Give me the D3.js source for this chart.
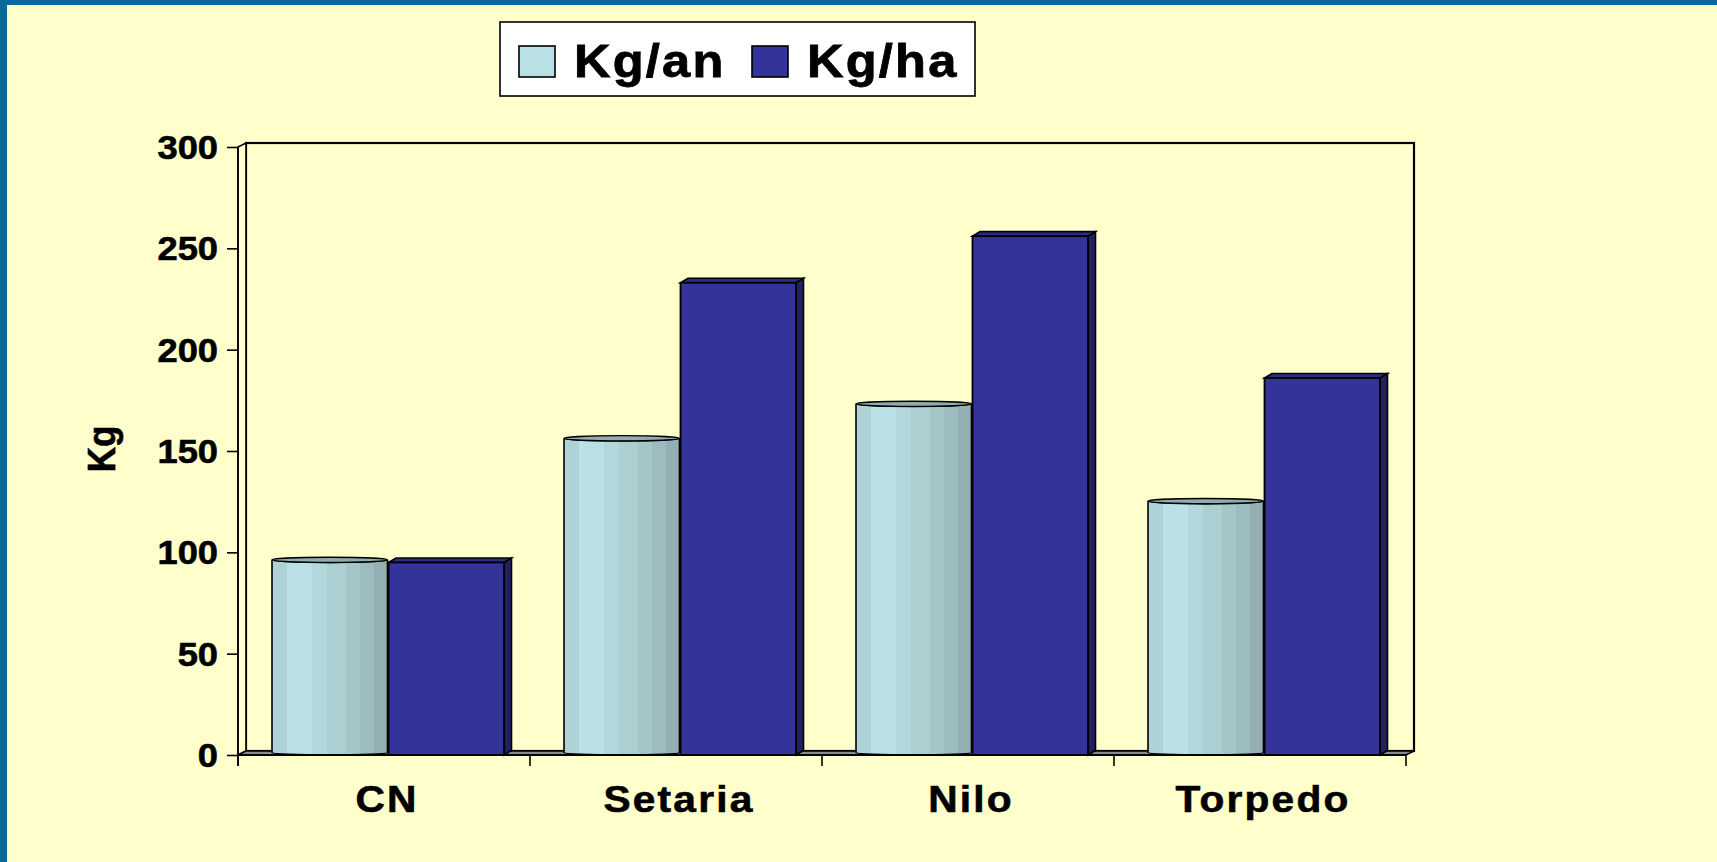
<!DOCTYPE html>
<html>
<head>
<meta charset="utf-8">
<script src="https://cdn.jsdelivr.net/npm/d3@7"></script>
<style>
  html, body { margin: 0; padding: 0; background: #FFFFCC; overflow: hidden; }
</style>
</head>
<body>
<div id="graphic"></div>
<script>
// values
const categories = ['CN', 'Setaria', 'Nilo', 'Torpedo'];
const series = ['Kg/an', 'Kg/ha'];
const kgAn = [95, 155, 172, 124];
const kgHa = [95, 233, 256, 186];
const yTicks = [0, 50, 100, 150, 200, 250, 300];
const yTitle = 'Kg';

const width = 1717, height = 862;
const font = '"Liberation Sans", Arial, sans-serif';
const sx = 1.1; // text in the original is a bit stretched
const bg = '#FFFFCC';
const lightCol = '#B9E0E4', darkCol = '#333399';

// 3d depth of walls and boxes
const wall = {dx: 8, dy: -4};
const box = {dx: 7.5, dy: -4.5};

const svg = d3.select('#graphic')
  .append('svg')
  .attr('width', width)
  .attr('height', height)
  .attr('font-family', font)
  .attr('font-weight', 'bold');

svg.append('rect').attr('width', width).attr('height', height).attr('fill', bg);
// blue frame on top and left
svg.append('rect').attr('width', width).attr('height', 5).attr('fill', '#0A699C');
svg.append('rect').attr('width', 7).attr('height', height).attr('fill', '#0A699C');

const defs = svg.append('defs');
const grad = defs.append('linearGradient').attr('id', 'cyl')
  .attr('x1', 0).attr('x2', 1).attr('y1', 0).attr('y2', 0);
const bands = [
  [0.00, '#AED2D6'], [0.13, '#BAE1E5'], [0.35, '#B3D8DB'], [0.48, '#ACCFD2'],
  [0.64, '#A5C6C9'], [0.76, '#9DBCBF'], [0.88, '#93AFB1'], [1.00, '#93AFB1']
];
bands.forEach((b, i) => {
  if (i > 0) grad.append('stop').attr('offset', b[0]).attr('stop-color', bands[i - 1][1]);
  grad.append('stop').attr('offset', b[0]).attr('stop-color', b[1]);
});

const y = d3.scaleLinear().domain([0, 300]).range([755, 147]);
const x0 = d3.scaleBand().domain(categories).range([238, 1406]);
const x1 = d3.scaleBand().domain(series).range([34, 265]);

const [plotL, plotR] = x0.range();
const yBase = y(0), yTop = y(300);

// walls + floor
svg.append('rect')
  .attr('x', plotL + wall.dx).attr('y', yTop + wall.dy)
  .attr('width', plotR - plotL).attr('height', yBase - yTop)
  .attr('fill', bg).attr('stroke', '#000').attr('stroke-width', 2.2);
svg.append('polygon')
  .attr('points', [[plotL, yTop], [plotL + wall.dx, yTop + wall.dy], [plotL + wall.dx, yBase + wall.dy], [plotL, yBase]].join(' '))
  .attr('fill', bg).attr('stroke', '#000').attr('stroke-width', 1.6);
svg.append('polygon')
  .attr('points', [[plotL, yBase], [plotL + wall.dx, yBase + wall.dy], [plotR + wall.dx, yBase + wall.dy], [plotR, yBase]].join(' '))
  .attr('fill', '#8A8A8A').attr('stroke', '#000').attr('stroke-width', 1.4);

// y axis
const yAxis = svg.append('g')
  .attr('transform', `translate(${plotL},0)`)
  .call(d3.axisLeft(y).tickValues(yTicks).tickSize(11).tickPadding(9));
yAxis.select('.domain').remove();
yAxis.append('line').attr('x1', 0).attr('x2', 0).attr('y1', yTop).attr('y2', yBase + 11)
  .attr('stroke', '#000').attr('stroke-width', 1.6);
yAxis.selectAll('.tick line').attr('stroke', '#000').attr('stroke-width', 1.6);
yAxis.selectAll('.tick text')
  .attr('fill', '#000')
  .attr('stroke', '#000').attr('stroke-width', 0.6)
  .attr('font-size', 33)
  .attr('font-family', font)
  .attr('font-weight', 'bold')
  .attr('dy', '0.35em')
  .attr('transform', function() { const xx = +d3.select(this).attr('x'); return `translate(${xx},0) scale(${sx},1) translate(${-xx},0)`; });

// y title
svg.append('text')
  .attr('transform', `translate(115,449) rotate(-90) scale(1,${sx})`)
  .attr('text-anchor', 'middle')
  .attr('font-size', 35)
  .attr('stroke', '#000').attr('stroke-width', 0.6)
  .text(yTitle);

// bars
const rows = categories.map((c, i) => ({cat: c, an: kgAn[i], ha: kgHa[i]}));
const groups = svg.append('g').selectAll('g')
  .data(rows)
  .join('g')
  .attr('transform', d => `translate(${x0(d.cat)},0)`);

const bw = x1.bandwidth();
const e = 2.6;

function cylBody(d) {
  const xa = x1('Kg/an'), xb = xa + bw, rx = bw / 2, cy = y(d.an) - e;
  return `M${xa},${cy} L${xa},${yBase - e} A${rx},${e} 0 0 0 ${xb},${yBase - e} L${xb},${cy} A${rx},${e} 0 0 1 ${xa},${cy} Z`;
}
groups.append('path')
  .attr('d', cylBody)
  .attr('fill', 'url(#cyl)')
  .attr('stroke', '#000').attr('stroke-width', 1.6);
groups.append('ellipse')
  .attr('cx', x1('Kg/an') + bw / 2)
  .attr('cy', d => y(d.an) - e)
  .attr('rx', bw / 2).attr('ry', e)
  .attr('fill', '#8FADAF').attr('stroke', '#000').attr('stroke-width', 1.4);

const xh = x1('Kg/ha') + 1;
groups.append('polygon')
  .attr('points', d => [[xh + bw, y(d.ha)], [xh + bw + box.dx, y(d.ha) + box.dy], [xh + bw + box.dx, yBase + box.dy], [xh + bw, yBase]].join(' '))
  .attr('fill', '#21215F').attr('stroke', '#000').attr('stroke-width', 1.6);
groups.append('polygon')
  .attr('points', d => [[xh, y(d.ha)], [xh + box.dx, y(d.ha) + box.dy], [xh + bw + box.dx, y(d.ha) + box.dy], [xh + bw, y(d.ha)]].join(' '))
  .attr('fill', '#2C2C85').attr('stroke', '#000').attr('stroke-width', 1.6);
groups.append('rect')
  .attr('x', xh).attr('y', d => y(d.ha))
  .attr('width', bw).attr('height', d => yBase - y(d.ha))
  .attr('fill', darkCol).attr('stroke', '#000').attr('stroke-width', 1.8);

// x axis
const xAxis = svg.append('g');
xAxis.append('line').attr('x1', plotL).attr('x2', plotR).attr('y1', yBase).attr('y2', yBase)
  .attr('stroke', '#000').attr('stroke-width', 2);
xAxis.selectAll('line.tk')
  .data(categories.map(c => x0(c)).concat([plotR]))
  .join('line').attr('class', 'tk')
  .attr('x1', d => d).attr('x2', d => d).attr('y1', yBase).attr('y2', yBase + 11)
  .attr('stroke', '#000').attr('stroke-width', 1.6);
xAxis.selectAll('text')
  .data(categories)
  .join('text')
  .attr('transform', d => `translate(${x0(d) + x0.bandwidth() / 2 + 3},812) scale(${sx},1)`)
  .attr('text-anchor', 'middle')
  .attr('font-size', 37)
  .attr('letter-spacing', 2)
  .attr('stroke', '#000').attr('stroke-width', 0.6)
  .text(d => d);

// legend
const legend = svg.append('g');
legend.append('rect')
  .attr('x', 500).attr('y', 22).attr('width', 475).attr('height', 74)
  .attr('fill', '#fff').attr('stroke', '#000').attr('stroke-width', 1.6);
const items = legend.selectAll('g.item')
  .data(series)
  .join('g').attr('class', 'item')
  .attr('transform', (d, i) => `translate(${519 + i * 233},0)`);
items.append('rect')
  .attr('x', 0).attr('y', 46).attr('width', 36).attr('height', 31)
  .attr('fill', (d, i) => i ? darkCol : lightCol)
  .attr('stroke', '#000').attr('stroke-width', 1.6);
items.append('text')
  .attr('transform', `translate(55,77) scale(${sx},1)`)
  .attr('font-size', 46)
  .attr('letter-spacing', 2)
  .attr('stroke', '#000').attr('stroke-width', 0.8)
  .text(d => d);
</script>
</body>
</html>
